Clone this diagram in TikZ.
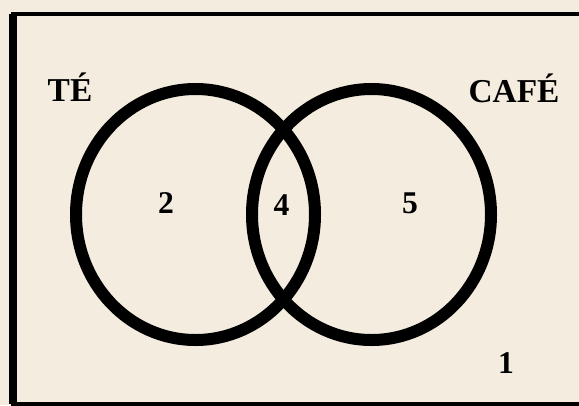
\documentclass[tikz,border=0pt]{standalone}
\usepackage{fontspec}
\setmainfont{Liberation Serif}
\usetikzlibrary{shapes.geometric}
\definecolor{paper}{HTML}{F3ECDF}
\begin{document}
\begin{tikzpicture}[transform shape,
	setring/.style={shape=ellipse, draw, line width=0.24cm, minimum width=4.78cm, minimum height=5.02cm, inner sep=0pt},
	setlabel/.style={anchor=base, inner sep=0pt, font=\fontsize{19}{23}\selectfont\bfseries},
	countlabel/.style={anchor=base, inner sep=0pt, font=\fontsize{18}{22}\selectfont\bfseries}]
	\useasboundingbox (0, 0) rectangle (11.58, 8.1);
	\fill[paper] (0, 0) rectangle (11.58, 8.1);
	\clip (0, 0) rectangle (11.58, 8.1);
	% frame
	\draw[line width=0.08cm] (0.25, 0.03) rectangle (12, 7.82);
	\draw[line width=0.16cm] (0.25, 0.03) -- (0.25, 7.82);
	% sets
	\node[setring](Te) at (3.91, 3.81){};
	\node[setring](Cafe) at (7.43, 3.81){};
	\node[setlabel](TeName) at (1.4, 6.08){TÉ};
	\node[setlabel](CafeName) at (10.28, 6.06){CAFÉ};
	% counts
	\node[countlabel](OnlyTe) at (3.32, 3.84){2};
	\node[countlabel](Both) at (5.63, 3.8){4};
	\node[countlabel](OnlyCafe) at (8.2, 3.83){5};
	\node[countlabel](Neither) at (10.12, 0.64){1};
\end{tikzpicture}
\end{document}
